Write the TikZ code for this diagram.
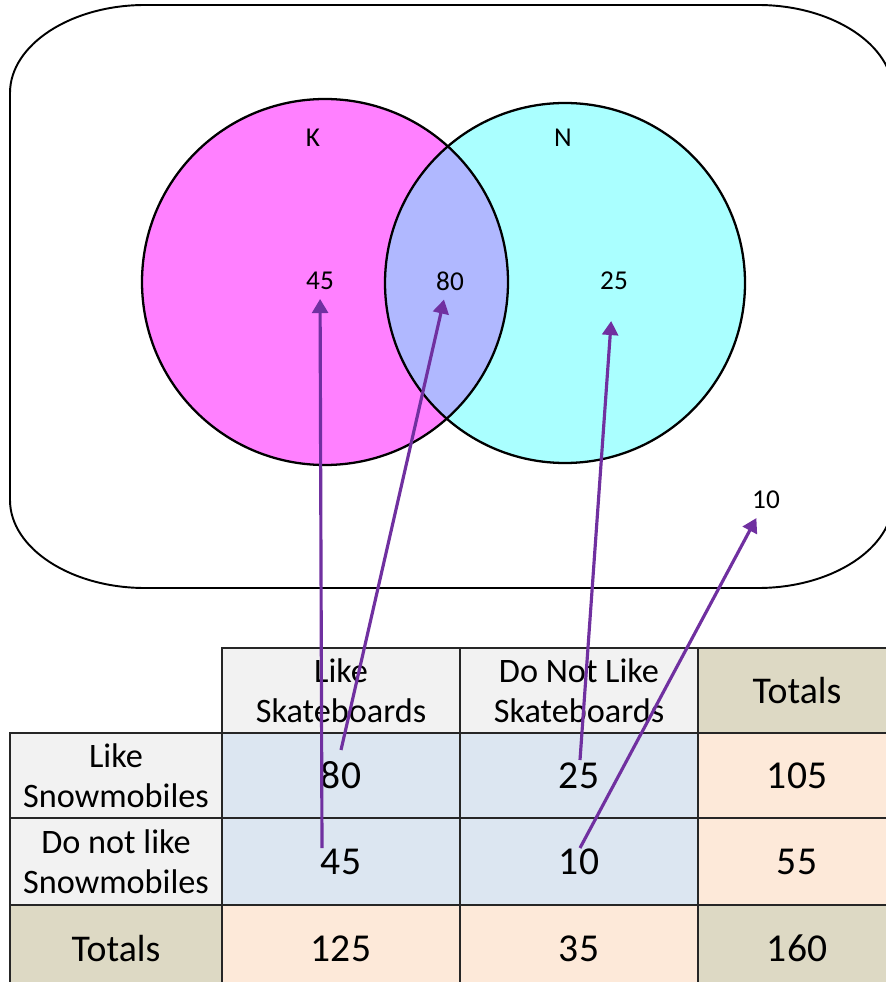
\documentclass[tikz,border=0pt]{standalone}
\usepackage{fontspec}
\setmainfont{Carlito}
\usetikzlibrary{arrows.meta}

\definecolor{kpink}{HTML}{FF80FF}
\definecolor{ncyan}{HTML}{AAFFFF}
\definecolor{both}{HTML}{B0B8FF}
\definecolor{arrpurple}{HTML}{7030A0}
\definecolor{hdgray}{HTML}{F2F2F2}
\definecolor{datablue}{HTML}{DCE6F1}
\definecolor{totpeach}{HTML}{FDE9D9}
\definecolor{tottan}{HTML}{DDD9C4}

\begin{document}
\begin{tikzpicture}[x=0.02cm, y=-0.02cm,
    vlab/.style={font=\fontsize{15.5}{18}\selectfont, inner sep=5pt},
    cell/.style={draw=black!85, line width=0.8pt, inner sep=0pt, align=center,
        minimum width=4.76cm, minimum height=1.7cm, font=\fontsize{19.5}{22.5}\selectfont},
    num/.style={cell, font=\fontsize{22.5}{26}\selectfont},
    arr/.style={draw=arrpurple, line width=1.8pt, -{Triangle[length=8pt,width=9pt]}}]
    \useasboundingbox (0,0) rectangle (885,982);

    % universal set
    \draw[line width=1.1pt]
        (10,93) -- (10,500)
        .. controls (10,548.6) and (71.5,588) .. (145,588) -- (758,588)
        .. controls (831.5,588) and (893,548.6) .. (893,500) -- (893,93)
        .. controls (893,44.4) and (831.5,5) .. (758,5) -- (145,5)
        .. controls (71.5,5) and (10,44.4) .. (10,93) -- cycle;

    % the two sets
    \fill[kpink] (325,282) circle (183);
    \fill[ncyan] (565,283) circle (180);
    \begin{scope}
        \clip (325,282) circle (183);
        \fill[both] (565,283) circle (180);
    \end{scope}
    \draw[line width=1.3pt] (325,282) circle (183);
    \draw[line width=1.3pt] (565,283) circle (180);

    \node[vlab] (K) at (313,138) {K};
    \node[vlab] (N) at (563,138) {N};
    \node[vlab] (v45) at (320,281) {45};
    \node[vlab] (v80) at (450,281) {80};
    \node[vlab] (v25) at (614,281) {25};
    \node[vlab] (v10) at (766,500) {10};

    % two-way table
    \node[cell, fill=hdgray] (h1) at (341,690.5) {Like\\Skateboards};
    \node[cell, fill=hdgray] (h2) at (579,690.5) {Do Not Like\\Skateboards};
    \node[cell, fill=tottan, minimum width=3.96cm, font=\fontsize{21.5}{24}\selectfont] (h3) at (797,690.5) {Totals};

    \node[cell, fill=hdgray, minimum width=4.24cm] (r1) at (116,775.5) {Like\\Snowmobiles};
    \node[num, fill=datablue] (t80) at (341,775.5) {80};
    \node[num, fill=datablue] (t25) at (579,775.5) {25};
    \node[num, fill=totpeach, minimum width=3.96cm] (t105) at (797,775.5) {105};

    \node[cell, fill=hdgray, minimum width=4.24cm, minimum height=1.74cm] (r2) at (116,861.5) {Do not like\\Snowmobiles};
    \node[num, fill=datablue, minimum height=1.74cm] (t45) at (341,861.5) {45};
    \node[num, fill=datablue, minimum height=1.74cm] (t10) at (579,861.5) {10};
    \node[num, fill=totpeach, minimum width=3.96cm, minimum height=1.74cm] (t55) at (797,861.5) {55};

    \node[num, fill=tottan, minimum width=4.24cm, minimum height=1.74cm, font=\fontsize{21.5}{24}\selectfont] (r3) at (116,948.5) {Totals};
    \node[num, fill=totpeach, minimum height=1.74cm] (t125) at (341,948.5) {125};
    \node[num, fill=totpeach, minimum height=1.74cm] (t35) at (579,948.5) {35};
    \node[num, fill=tottan, minimum width=3.96cm, minimum height=1.74cm] (t160) at (797,948.5) {160};

    % table cells to regions
    \coordinate (a45) at (322,848);
    \coordinate (a80) at (341,750);
    \coordinate (a25) at (580,760);
    \coordinate (a10) at (580,848);
    \draw[arr] (a45) -- (v45);
    \draw[arr] (a80) -- (v80.-108);
    \draw[arr, shorten >=0.44cm] (a25) -- (v25);
    \draw[arr] (a10) -- (v10);
\end{tikzpicture}
\end{document}
